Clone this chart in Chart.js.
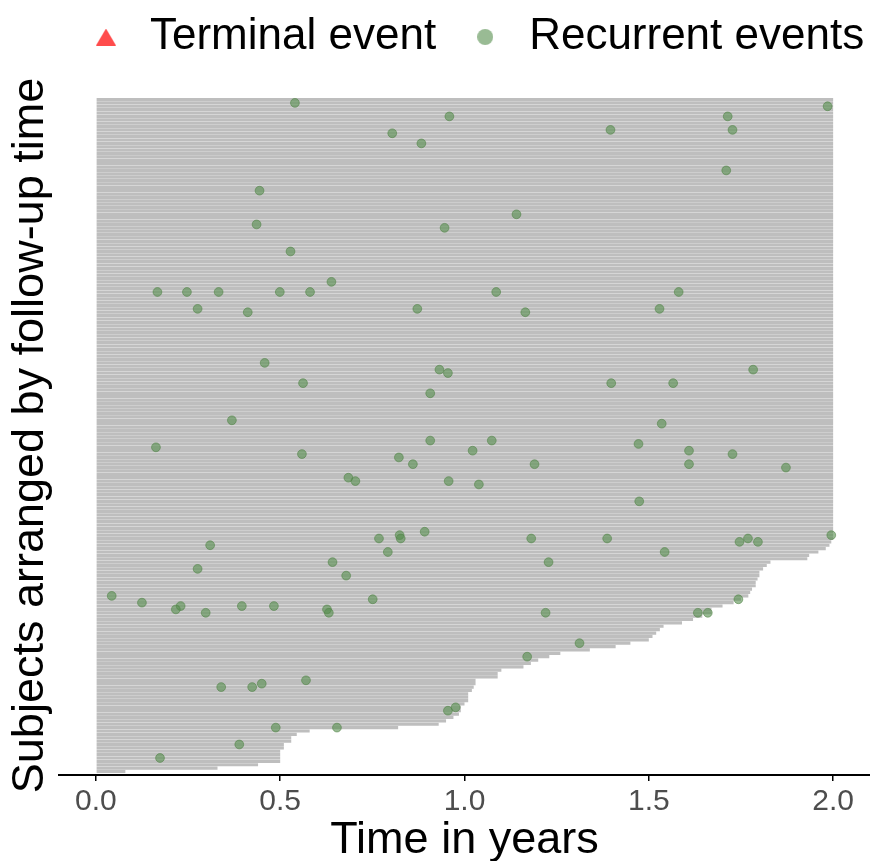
<!DOCTYPE html>
<html>
<head>
<meta charset="utf-8">
<title>Recurrent events by subject</title>
<script src="https://cdn.jsdelivr.net/npm/chart.js@4.4.0/dist/chart.umd.min.js"></script>
<style>
  html, body { margin: 0; padding: 0; background: #fff; }
  #wrap { width: 870px; height: 861px; }
</style>
</head>
<body>
<div id="wrap"><canvas id="eventChart" width="870" height="861"></canvas></div>
<script>
// Follow-up time in years for subjects 1..69 (shortest follow-up first)
const shortFollowUp = [
  0.08, 0.33, 0.44, 0.50, 0.50, 0.50, 0.50, 0.51, 0.51, 0.53,
  0.53, 0.545, 0.58, 0.82, 0.93, 0.95, 0.97, 0.985, 0.99, 0.99,
  1.00, 1.01, 1.01, 1.01, 1.02, 1.025, 1.03, 1.03, 1.09, 1.09,
  1.10, 1.16, 1.18, 1.20, 1.23, 1.26, 1.34, 1.41, 1.45, 1.50,
  1.51, 1.52, 1.53, 1.54, 1.59, 1.62, 1.645, 1.67, 1.67, 1.70,
  1.73, 1.75, 1.77, 1.775, 1.78, 1.79, 1.79, 1.795, 1.80, 1.80,
  1.81, 1.82, 1.83, 1.93, 1.935, 1.96, 1.98, 1.99, 1.995
];
// everybody else was followed up to the end of the study
const studyEnd = 2.0;
const nFullFollowUp = 131;

// Recurrent events: which subject, and when (years)
const eventSubject = [
  199, 198, 195, 195, 191, 191, 190, 187, 179, 173, 166, 163, 162, 155, 146,
  143, 143, 143, 143, 143, 143, 143, 138, 138, 138, 137, 137, 122, 120, 120,
  119, 116, 116, 116, 113, 105, 104, 99, 99, 98, 97, 96, 96, 95, 95,
  94, 92, 92, 92, 91, 88, 87, 87, 86, 81, 72, 71, 71, 70, 70,
  70, 70, 70, 69, 69, 68, 66, 66, 63, 63, 61, 59, 53, 52, 52,
  51, 50, 50, 50, 49, 49, 48, 48, 48, 48, 48, 39, 35, 28, 27,
  26, 26, 20, 19, 14, 14, 9, 5
];
const eventTime = [
  0.540, 1.985, 0.959, 1.714, 1.396, 1.727, 0.804, 0.883, 1.710, 0.444, 1.141, 0.436, 0.946, 0.528, 0.639,
  0.167, 0.247, 0.333, 0.499, 0.581, 1.086, 1.581, 0.276, 0.872, 1.529, 0.412, 1.165, 0.458, 0.932, 1.783,
  0.955, 0.562, 1.398, 1.566, 0.907, 0.369, 1.535, 0.907, 1.074, 1.472, 0.163, 1.022, 1.609, 0.559, 1.727,
  0.822, 0.860, 1.190, 1.609, 1.872, 0.685, 0.704, 0.957, 1.039, 1.474, 0.892, 0.824, 1.995, 0.768, 0.827,
  1.181, 1.387, 1.769, 1.746, 1.796, 0.310, 0.792, 1.543, 0.642, 1.228, 0.276, 0.679, 0.043, 0.751, 1.743,
  0.125, 0.230, 0.396, 0.483, 0.217, 0.627, 0.298, 0.632, 1.220, 1.633, 1.660, 1.312, 1.170, 0.570, 0.450,
  0.340, 0.424, 0.976, 0.955, 0.488, 0.654, 0.389, 0.174
];
// Terminal events (none observed)
const terminalSubject = [];
const terminalTime = [];

const xTicks = [0.0, 0.5, 1.0, 1.5, 2.0];

// Colours
const LINE_GRAY = '#bebebe';
const RECURRENT_FILL = 'rgba(85, 141, 76, 0.6)';
const RECURRENT_EDGE = 'rgba(78, 130, 68, 0.55)';
const TERMINAL_FILL = 'rgba(255, 0, 0, 0.7)';

// legend placement tweaks
const LEGEND_SHIFT_X = 57;
const LEGEND_SHIFT_Y = -12;
const LEGEND_EXTRA_HEIGHT = 15;

Chart.defaults.font.family = "'Liberation Sans', Arial, Helvetica, sans-serif";

const followUp = shortFollowUp.concat(Array(nFullFollowUp).fill(studyEnd));
const followUpData = followUp.map((t, i) => ({ x: t, y: i + 1 }));
const recurrentData = eventTime.map((t, i) => ({ x: t, y: eventSubject[i] }));
const terminalData = terminalTime.map((t, i) => ({ x: t, y: terminalSubject[i] }));

// small canvases used as legend keys
function makeKey(w, h, paint) {
    const c = document.createElement('canvas');
    c.width = w;
    c.height = h;
    paint(c.getContext('2d'), w, h);
    return c;
}
const triangleKey = makeKey(20, 17, (g, w, h) => {
    g.fillStyle = TERMINAL_FILL;
    g.beginPath();
    g.moveTo(w / 2, 0);
    g.lineTo(w, h);
    g.lineTo(0, h);
    g.closePath();
    g.fill();
});
const circleKey = makeKey(16, 16, (g, w, h) => {
    g.fillStyle = RECURRENT_FILL;
    g.beginPath();
    g.arc(w / 2, h / 2, w / 2, 0, Math.PI * 2);
    g.fill();
});

// push the plot area down a little and nudge the legend row into place
const legendSpacing = {
    id: 'legendSpacing',
    afterInit(chart) {
        const lg = chart.legend;
        if (!lg) return;
        const fit = lg.fit.bind(lg);
        const draw = lg.draw.bind(lg);
        lg.fit = function () {
            fit();
            this.height += LEGEND_EXTRA_HEIGHT;
        };
        lg.draw = function () {
            const ctx = this.ctx;
            ctx.save();
            ctx.translate(LEGEND_SHIFT_X, LEGEND_SHIFT_Y);
            draw();
            ctx.restore();
        };
    }
};

new Chart(document.getElementById('eventChart'), {
    type: 'scatter',
    data: {
        datasets: [
            {
                label: 'Recurrent events',
                data: recurrentData,
                order: 0,
                pointRadius: 4.4,
                pointBackgroundColor: RECURRENT_FILL,
                pointBorderColor: RECURRENT_EDGE,
                pointBorderWidth: 1
            },
            {
                label: 'Terminal event',
                data: terminalData,
                order: 0,
                pointStyle: 'triangle',
                pointRadius: 6,
                pointBackgroundColor: TERMINAL_FILL,
                pointBorderWidth: 0
            },
            {
                type: 'bar',
                label: 'Follow-up',
                indexAxis: 'y',
                data: followUpData,
                order: 1,
                backgroundColor: LINE_GRAY,
                borderWidth: 0,
                barPercentage: 0.94,
                categoryPercentage: 1
            }
        ]
    },
    plugins: [legendSpacing],
    options: {
        responsive: false,
        devicePixelRatio: 1,
        animation: false,
        events: [],
        layout: { autoPadding: false, padding: 0 },
        plugins: {
            tooltip: { enabled: false },
            legend: {
                position: 'top',
                align: 'start',
                labels: {
                    usePointStyle: true,
                    boxWidth: 44,
                    padding: 27,
                    color: '#000',
                    font: { size: 44 },
                    generateLabels: () => [
                        { text: 'Terminal event', pointStyle: triangleKey, fillStyle: TERMINAL_FILL,
                          strokeStyle: 'transparent', lineWidth: 0, fontColor: '#000', hidden: false, datasetIndex: 1 },
                        { text: 'Recurrent events', pointStyle: circleKey, fillStyle: RECURRENT_FILL,
                          strokeStyle: 'transparent', lineWidth: 0, fontColor: '#000', hidden: false, datasetIndex: 0 }
                    ]
                }
            }
        },
        scales: {
            x: {
                type: 'linear',
                position: 'bottom',
                offset: false,
                min: -0.1,
                max: 2.1,
                afterBuildTicks: (scale) => { scale.ticks = xTicks.map(v => ({ value: v })); },
                afterFit: (scale) => { scale.height = 86; },
                ticks: {
                    callback: (v) => Number(v).toFixed(1),
                    color: '#4d4d4d',
                    font: { size: 30 },
                    padding: 3,
                    maxRotation: 0,
                    autoSkip: false
                },
                grid: {
                    display: true,
                    offset: false,
                    drawOnChartArea: false,
                    drawTicks: true,
                    tickLength: 6,
                    color: '#000',
                    lineWidth: 1.5
                },
                border: { display: true, color: '#000', width: 2 },
                title: {
                    display: true,
                    text: 'Time in years',
                    color: '#000',
                    font: { size: 45, lineHeight: 0.9 },
                    padding: 0
                }
            },
            y: {
                type: 'linear',
                position: 'left',
                offset: false,
                min: -0.04,
                max: 201.04,
                afterFit: (scale) => { scale.width = 59; },
                ticks: { display: false },
                grid: { display: false, offset: false },
                border: { display: false },
                title: {
                    display: true,
                    text: 'Subjects arranged by follow-up time',
                    color: '#000',
                    font: { size: 45 },
                    padding: { top: 3.5, bottom: 0 }
                }
            }
        }
    }
});
</script>
</body>
</html>
